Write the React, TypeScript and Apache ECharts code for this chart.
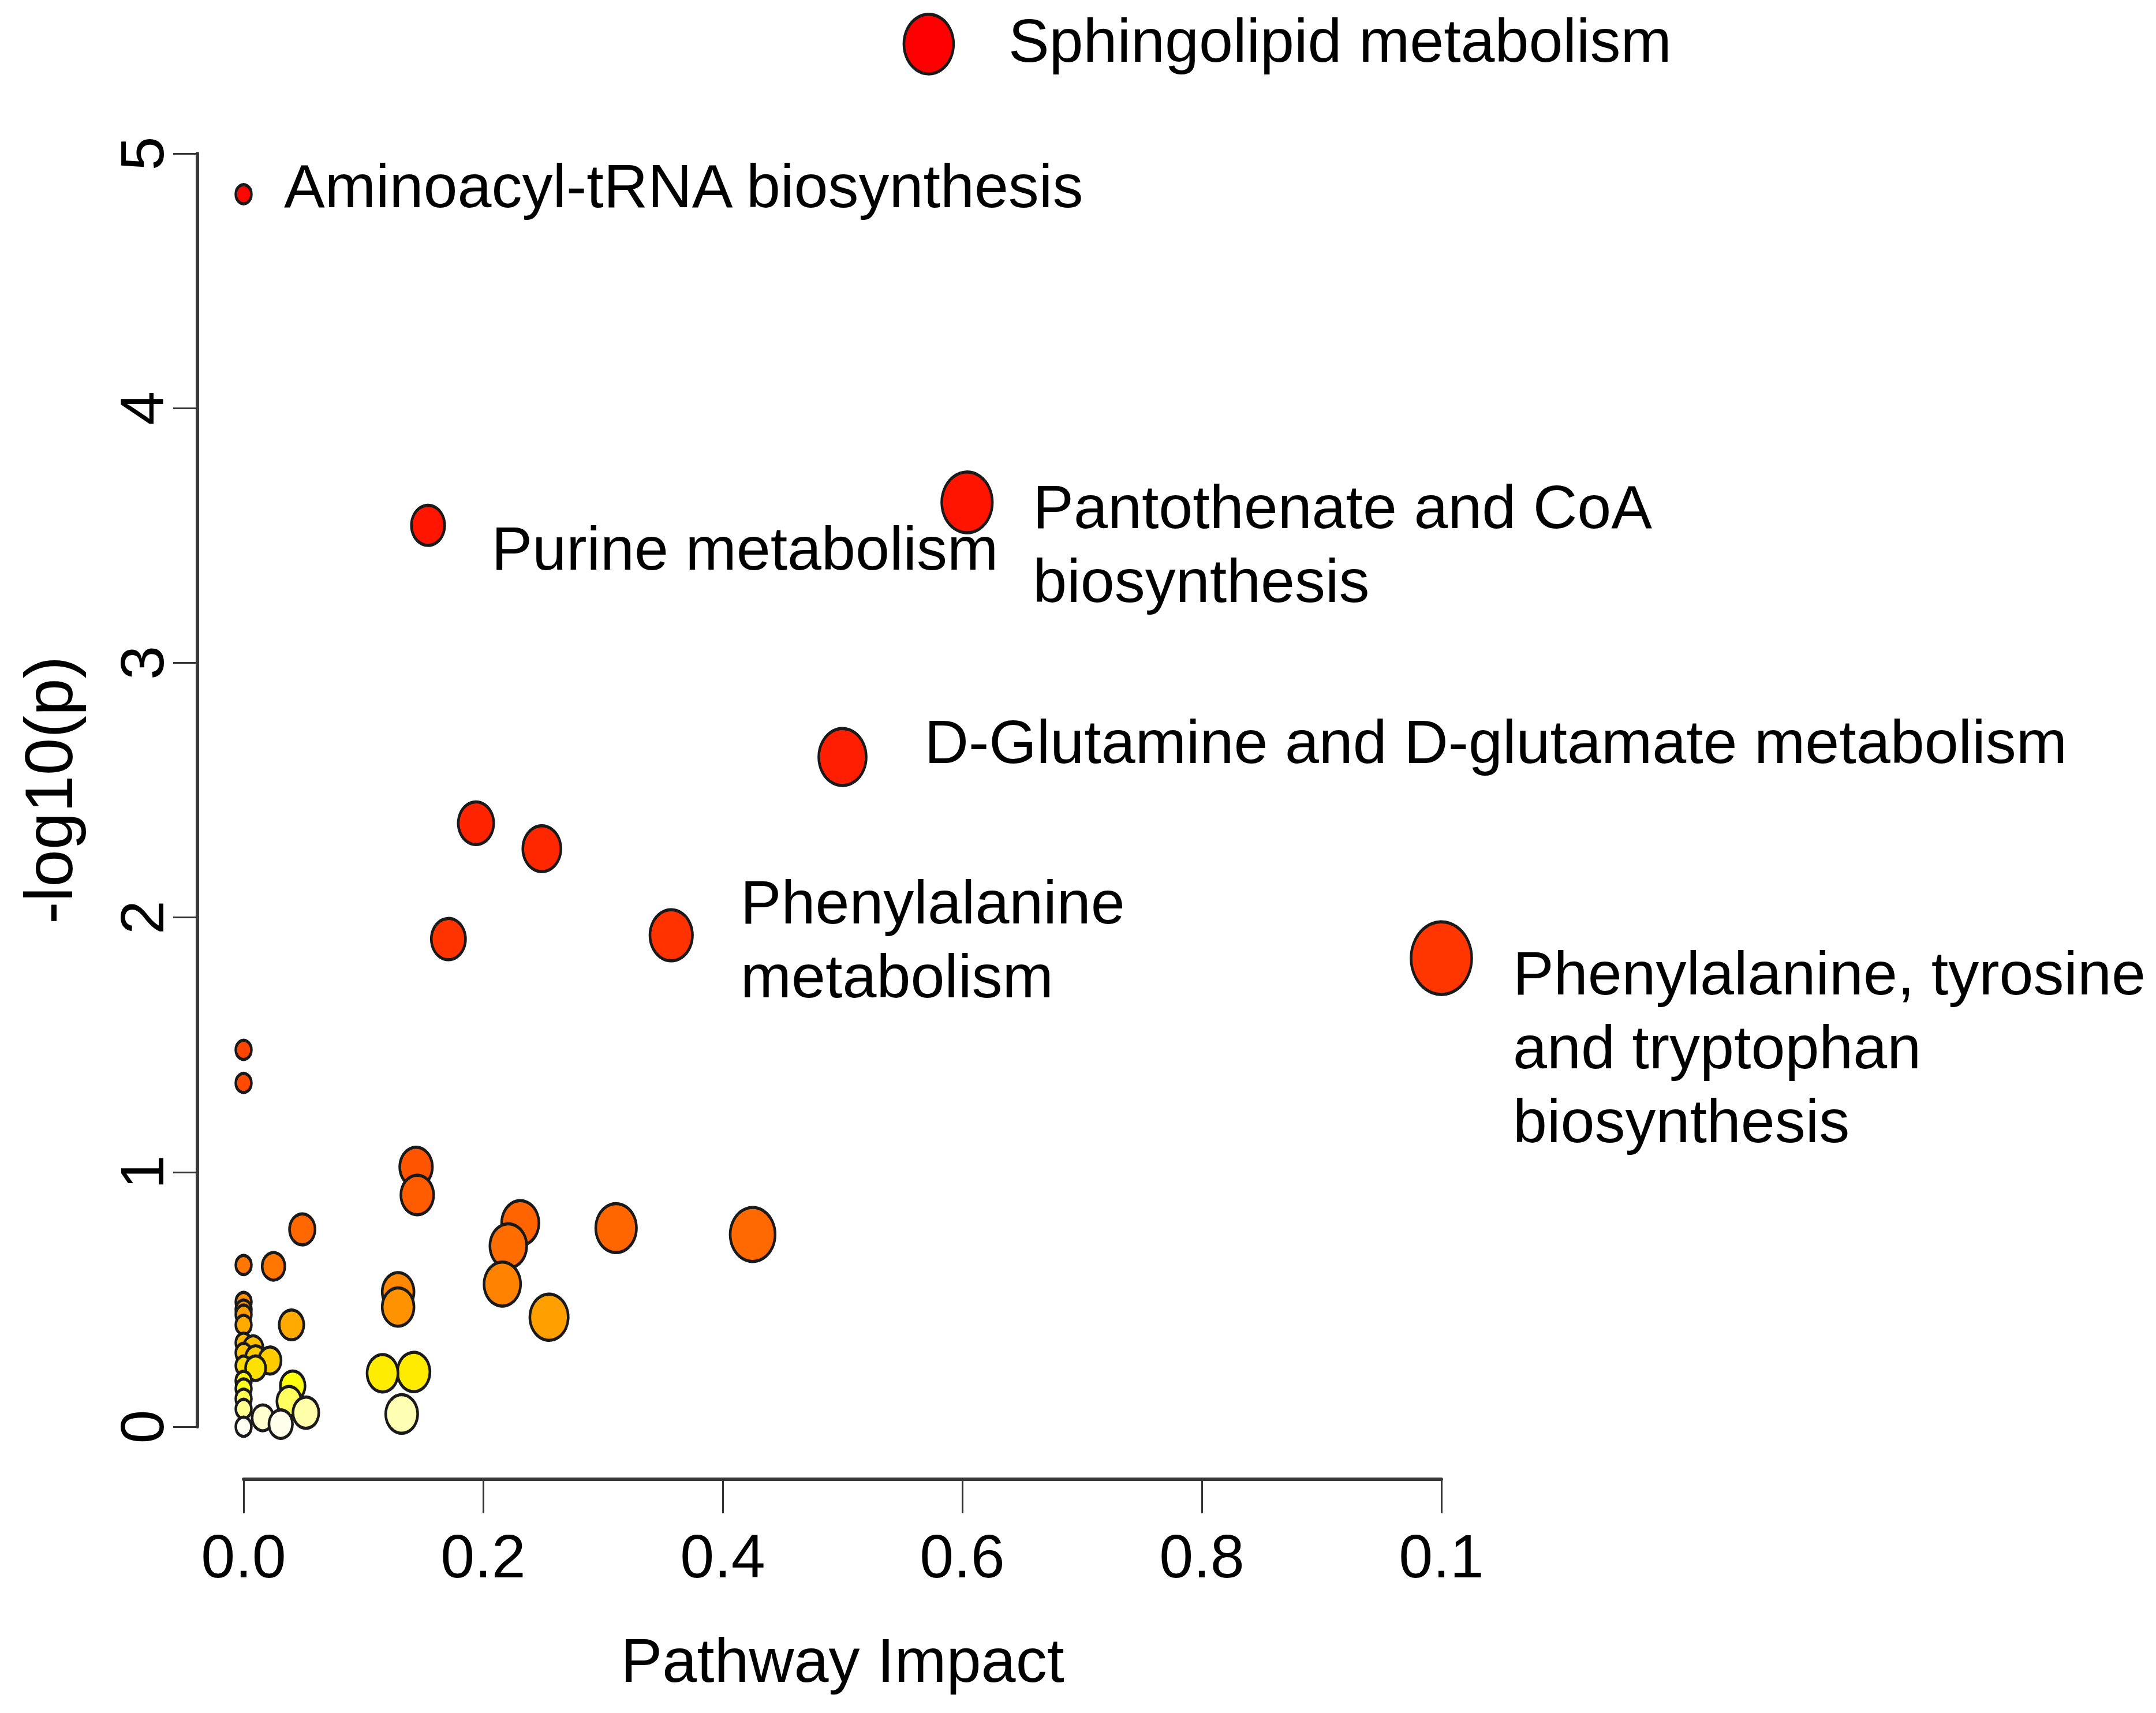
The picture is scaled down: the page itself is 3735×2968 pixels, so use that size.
import React, { useEffect, useRef } from 'react';
import * as echarts from 'echarts';

// Pathway names ('' = unlabeled point); sorted by -log10(p), descending
const pathwayNames: string[] = [
  'Sphingolipid metabolism',
  'Aminoacyl-tRNA biosynthesis',
  'Pantothenate and CoA\nbiosynthesis',
  'Purine metabolism',
  'D-Glutamine and D-glutamate metabolism',
  '',
  '',
  'Phenylalanine\nmetabolism',
  '',
  'Phenylalanine, tyrosine\nand tryptophan\nbiosynthesis',
  '', '', '', '', '', '', '', '', '', '',
  '', '', '', '', '', '', '', '', '', '',
  '', '', '', '', '', '', '', '', '', '',
  '', '', '', '', '', '', '', '', '', '',
];

const pathwayImpact: number[] = [
  0.572, 0.0, 0.604, 0.154, 0.5, 0.194, 0.249, 0.357, 0.171, 1.0,
  0.0, 0.0, 0.144, 0.145, 0.231, 0.311, 0.049, 0.425, 0.221, 0.0,
  0.025, 0.216, 0.129, 0.0, 0.129, 0.0, 0.0, 0.255, 0.04, 0.0,
  0.0, 0.008, 0.0, 0.01, 0.022, 0.0, 0.01, 0.142, 0.116, 0.0,
  0.041, 0.0, 0.0, 0.038, 0.0, 0.052, 0.132, 0.016, 0.031, 0.0,
];

const negLogP: number[] = [
  5.43, 4.84, 3.63, 3.54, 2.63, 2.37, 2.27, 1.93, 1.915, 1.84,
  1.48, 1.35, 1.02, 0.91, 0.8, 0.78, 0.775, 0.755, 0.71, 0.635,
  0.63, 0.56, 0.53, 0.49, 0.47, 0.46, 0.44, 0.43, 0.4, 0.4,
  0.33, 0.31, 0.29, 0.27, 0.26, 0.24, 0.23, 0.215, 0.21, 0.18,
  0.16, 0.15, 0.11, 0.1, 0.07, 0.055, 0.05, 0.035, 0.01, 0.0,
];

const xTickLabels: string[] = ['0.0', '0.2', '0.4', '0.6', '0.8', '0.1'];
const yTickLabels: string[] = ['0', '1', '2', '3', '4', '5'];

// label placement relative to the point centre: [dx to text start, dy to block middle]
const labelPlacement: Record<string, [number, number]> = {
  'Sphingolipid metabolism': [138, -6],
  'Aminoacyl-tRNA biosynthesis': [70, -15],
  'Pantothenate and CoA\nbiosynthesis': [114, 72],
  'Purine metabolism': [110, 40],
  'D-Glutamine and D-glutamate metabolism': [142, -27],
  'Phenylalanine\nmetabolism': [120, 7],
  'Phenylalanine, tyrosine\nand tryptophan\nbiosynthesis': [124, 154],
};

// heat colour ramp (style): -log10(p) -> colour
const heatStops: [number, string][] = [
  [0, '#FFFFF4'], [0.03, '#FFFFD8'], [0.06, '#FFFFA0'], [0.12, '#FFFF40'],
  [0.16, '#FFFF10'], [0.22, '#FFE800'], [0.26, '#FFCC00'], [0.33, '#FFBB00'],
  [0.4, '#FFAA00'], [0.47, '#FF9200'], [0.53, '#FF8800'], [0.6, '#FF7A00'],
  [0.7, '#FF6E00'], [0.8, '#FF6400'], [1.0, '#FF5500'], [1.4, '#FF4800'],
  [1.9, '#FF3300'], [2.3, '#FF2600'], [2.6, '#FF1E00'], [3.6, '#FF1400'],
  [4.8, '#FF0800'], [5.4, '#FF0000'],
];

function hexToRgb(h: string): number[] {
  return [1, 3, 5].map((i) => parseInt(h.slice(i, i + 2), 16));
}

function heatColor(v: number): string {
  if (v <= heatStops[0][0]) return heatStops[0][1];
  for (let i = 1; i < heatStops.length; i++) {
    const [v1, c1] = heatStops[i];
    if (v <= v1) {
      const [v0, c0] = heatStops[i - 1];
      const t = (v - v0) / (v1 - v0);
      const a = hexToRgb(c0);
      const b = hexToRgb(c1);
      const c = a.map((x, k) => Math.round(x + (b[k] - x) * t));
      return `rgb(${c[0]},${c[1]},${c[2]})`;
    }
  }
  return heatStops[heatStops.length - 1][1];
}

const FONT = '"Liberation Sans", Arial, sans-serif';

export default function App() {
  const ref = useRef<HTMLDivElement>(null);

  useEffect(() => {
    document.body.style.margin = '0';
    const chart = echarts.init(ref.current!, undefined, { renderer: 'svg' });

    const data = pathwayNames.map((name, i) => {
      const place = labelPlacement[name];
      return {
        name,
        value: [pathwayImpact[i], negLogP[i]],
        label: place
          ? {
              show: true,
              position: 'inside',
              align: 'left',
              verticalAlign: 'middle',
              offset: place,
              formatter: name,
              fontSize: 106,
              lineHeight: 128,
              fontFamily: FONT,
              color: '#000',
            }
          : { show: false },
      };
    });

    chart.setOption({
      animation: false,
      backgroundColor: '#ffffff',
      grid: { left: 422, right: 1238, top: 266, bottom: 496, containLabel: false },
      xAxis: {
        type: 'value',
        min: 0,
        max: 1,
        interval: 0.2,
        offset: 91,
        name: 'Pathway Impact',
        nameLocation: 'middle',
        nameGap: 259,
        nameTextStyle: { fontSize: 108, fontFamily: FONT, color: '#000' },
        axisLine: { show: true, onZero: false, lineStyle: { color: '#3a3a3a', width: 6 } },
        axisTick: { show: true, length: 59, lineStyle: { color: '#333', width: 3 } },
        axisLabel: {
          margin: 80,
          fontSize: 106,
          fontFamily: FONT,
          color: '#000',
          formatter: (v: number) => xTickLabels[Math.round(v * 5)],
        },
        splitLine: { show: false },
      },
      yAxis: {
        type: 'value',
        min: 0,
        max: 5,
        interval: 1,
        offset: 80,
        name: '-log10(p)',
        nameLocation: 'middle',
        nameGap: 199,
        nameRotate: 90,
        nameTextStyle: { fontSize: 116, fontFamily: FONT, color: '#000' },
        axisLine: { show: true, onZero: false, lineStyle: { color: '#3a3a3a', width: 6 } },
        axisTick: { show: true, length: 42, lineStyle: { color: '#333', width: 3 } },
        axisLabel: {
          rotate: 90,
          margin: 43,
          fontSize: 106,
          fontFamily: FONT,
          color: '#000',
          formatter: (v: number) => yTickLabels[Math.round(v)],
        },
        splitLine: { show: false },
      },
      series: [
        {
          type: 'scatter',
          clip: false,
          silent: true,
          symbol: 'circle',
          symbolSize: (val: number[]) => {
            const w = 27 + 78 * Math.sqrt(val[0]);
            return [w, 1.19 * (w + 5) - 5];
          },
          itemStyle: {
            color: (p: any) => heatColor(p.value[1]),
            borderColor: '#1a1a1a',
            borderWidth: 5,
            opacity: 1,
          },
          emphasis: { disabled: true },
          data,
        },
      ],
    });

    return () => chart.dispose();
  }, []);

  return <div ref={ref} style={{ width: 3735, height: 2968 }} />;
}
